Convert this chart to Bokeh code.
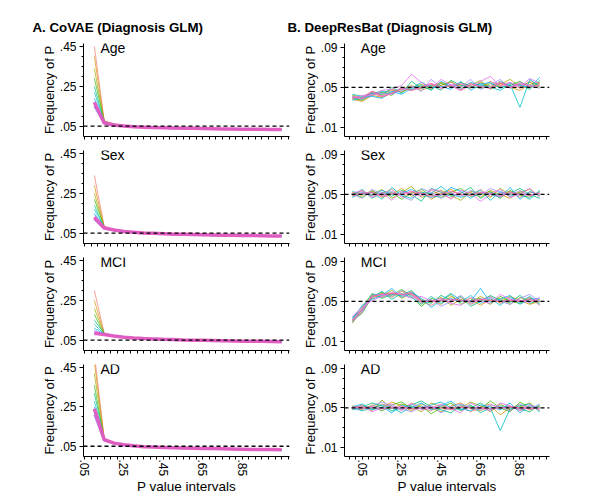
from bokeh.plotting import figure
from bokeh.layouts import column, row
from bokeh.models import Range1d, FixedTicker, CustomJSTickFormatter, Span, Label
from bokeh.embed import file_html
from bokeh.resources import INLINE

# ---------------- data ----------------
x_left = [0.10, 0.15, 0.20, 0.25, 0.30, 0.35, 0.40, 0.45, 0.50, 0.55,
          0.60, 0.65, 0.70, 0.75, 0.80, 0.85, 0.90, 0.95, 1.00, 1.05]
x_right = [0.00, 0.05, 0.10, 0.15, 0.20, 0.25, 0.30, 0.35, 0.40, 0.45,
           0.50, 0.55, 0.60, 0.65, 0.70, 0.75, 0.80, 0.85, 0.90, 0.95]

panel_names = ["Age", "Sex", "MCI", "AD"]
column_titles = ["A. CoVAE (Diagnosis GLM)", "B. DeepResBat (Diagnosis GLM)"]
x_ticks = [0.05, 0.25, 0.45, 0.65, 0.85]
left_y_ticks = [0.05, 0.25, 0.45]
right_y_ticks = [0.01, 0.05, 0.09]
ref_line = 0.05

covae_age = [
    [.45, .078, .060, .052, .048, .046, .045, .043, .042, .041, .040, .039, .038, .038, .037, .036, .035, .035, .034, .034],
    [.40, .074, .058, .053, .049, .045, .044, .044, .041, .040, .041, .038, .037, .039, .036, .035, .036, .034, .035, .033],
    [.34, .070, .061, .051, .047, .047, .043, .042, .043, .039, .038, .040, .038, .036, .037, .035, .034, .036, .033, .034],
    [.29, .076, .057, .054, .046, .044, .045, .041, .040, .041, .039, .037, .039, .037, .035, .037, .035, .033, .034, .032],
    [.25, .068, .059, .050, .049, .046, .042, .043, .041, .038, .040, .038, .036, .038, .036, .034, .036, .035, .032, .033],
    [.22, .072, .056, .052, .047, .045, .044, .041, .042, .040, .037, .039, .037, .036, .038, .035, .033, .034, .034, .032],
    [.19, .066, .058, .051, .048, .044, .043, .042, .040, .041, .039, .038, .037, .037, .035, .036, .034, .033, .035, .033],
    [.17, .070, .055, .053, .046, .046, .042, .043, .041, .039, .038, .037, .038, .035, .036, .034, .035, .034, .032, .034],
    [.15, .064, .057, .050, .047, .045, .043, .041, .040, .040, .038, .038, .036, .036, .035, .035, .034, .033, .033, .032],
    [.17, .066, .056, .051, .047, .045, .043, .042, .041, .040, .039, .038, .037, .036, .036, .035, .034, .034, .033, .033],
]
covae_sex = [
    [.34, .085, .068, .060, .056, .053, .050, .048, .046, .045, .044, .043, .042, .041, .040, .040, .039, .038, .038, .037],
    [.29, .080, .066, .058, .057, .051, .049, .049, .045, .044, .045, .042, .041, .042, .039, .038, .040, .037, .038, .036],
    [.25, .078, .070, .059, .054, .054, .048, .047, .047, .043, .043, .044, .040, .040, .041, .039, .038, .039, .036, .037],
    [.22, .082, .064, .061, .055, .052, .051, .046, .045, .046, .042, .041, .043, .039, .039, .041, .037, .037, .037, .035],
    [.19, .076, .067, .057, .058, .050, .049, .048, .044, .045, .044, .042, .041, .041, .038, .039, .039, .036, .038, .036],
    [.17, .079, .065, .060, .053, .053, .047, .047, .046, .042, .043, .043, .040, .042, .040, .038, .038, .038, .035, .036],
    [.15, .074, .069, .058, .056, .051, .050, .045, .045, .044, .041, .042, .042, .040, .039, .037, .039, .036, .037, .035],
    [.14, .077, .066, .059, .055, .052, .049, .048, .046, .044, .043, .041, .041, .040, .040, .039, .037, .037, .036, .036],
    [.12, .073, .064, .057, .054, .050, .048, .047, .045, .043, .042, .042, .040, .039, .038, .038, .037, .036, .036, .035],
    [.13, .076, .066, .058, .055, .051, .049, .047, .045, .044, .043, .042, .041, .040, .039, .038, .038, .037, .036, .036],
]
covae_mci = [
    [.30, .085, .072, .066, .062, .059, .057, .055, .053, .052, .051, .050, .049, .048, .047, .046, .045, .044, .044, .043],
    [.25, .080, .070, .064, .063, .058, .056, .056, .052, .051, .052, .049, .048, .049, .046, .045, .046, .043, .044, .042],
    [.21, .082, .074, .067, .060, .060, .055, .054, .054, .050, .050, .051, .047, .047, .048, .044, .045, .044, .042, .043],
    [.18, .078, .069, .065, .064, .057, .058, .053, .052, .053, .049, .049, .050, .046, .046, .047, .043, .045, .043, .041],
    [.15, .084, .071, .063, .061, .061, .054, .055, .051, .051, .051, .048, .048, .048, .045, .045, .046, .042, .043, .042],
    [.13, .079, .073, .068, .062, .058, .057, .052, .053, .050, .050, .050, .047, .047, .047, .044, .044, .045, .041, .042],
    [.11, .081, .068, .064, .060, .059, .055, .056, .052, .052, .049, .049, .049, .046, .046, .046, .045, .043, .043, .041],
    [.10, .077, .072, .066, .063, .057, .056, .054, .054, .051, .051, .047, .048, .048, .045, .045, .044, .044, .042, .043],
    [.09, .080, .070, .065, .061, .058, .056, .054, .052, .051, .050, .049, .048, .047, .046, .045, .045, .044, .043, .042],
    [.085, .078, .071, .065, .061, .058, .056, .054, .053, .051, .050, .049, .048, .047, .046, .045, .044, .044, .043, .042],
]
covae_ad = [
    [.52, .090, .068, .058, .052, .049, .047, .045, .043, .042, .041, .040, .039, .038, .037, .036, .035, .034, .033, .032],
    [.48, .086, .066, .060, .053, .048, .046, .046, .042, .041, .042, .039, .038, .039, .036, .035, .036, .033, .034, .031],
    [.42, .088, .070, .057, .051, .050, .045, .044, .044, .040, .039, .041, .037, .037, .038, .034, .034, .035, .032, .032],
    [.36, .083, .064, .059, .054, .047, .047, .043, .042, .042, .040, .038, .039, .036, .036, .037, .033, .034, .033, .030],
    [.32, .087, .067, .056, .050, .049, .044, .045, .041, .041, .039, .040, .037, .038, .035, .035, .035, .032, .033, .031],
    [.28, .084, .069, .058, .052, .048, .046, .043, .043, .039, .040, .038, .038, .036, .036, .034, .034, .034, .031, .032],
    [.25, .082, .065, .061, .053, .050, .045, .044, .042, .041, .038, .039, .037, .037, .035, .036, .033, .033, .032, .030],
    [.23, .086, .066, .057, .051, .048, .047, .044, .041, .040, .040, .038, .036, .037, .036, .034, .035, .032, .032, .031],
    [.21, .080, .064, .056, .050, .047, .045, .043, .042, .040, .039, .038, .037, .036, .035, .034, .034, .033, .032, .031],
    [.24, .083, .066, .058, .052, .048, .046, .044, .042, .041, .040, .039, .038, .037, .036, .035, .034, .033, .033, .032],
]

drb_age = [
    [.041, .039, .044, .041, .047, .046, .050, .049, .053, .052, .055, .051, .054, .050, .056, .052, .055, .049, .056, .053],
    [.038, .036, .042, .040, .044, .048, .052, .047, .051, .055, .050, .053, .049, .055, .051, .054, .050, .047, .053, .055],
    [.042, .040, .046, .043, .048, .045, .050, .053, .049, .052, .056, .049, .052, .057, .048, .053, .058, .051, .055, .050],
    [.039, .037, .043, .045, .042, .050, .047, .051, .048, .054, .050, .055, .051, .049, .054, .050, .052, .056, .050, .054],
    [.040, .038, .045, .042, .050, .044, .056, .049, .052, .047, .057, .052, .050, .054, .049, .056, .051, .053, .048, .057],
    [.043, .041, .044, .046, .045, .049, .048, .052, .047, .056, .051, .048, .055, .052, .050, .047, .053, .030, .058, .051],
    [.037, .040, .041, .039, .046, .043, .049, .055, .050, .051, .048, .056, .047, .053, .055, .049, .054, .052, .050, .060],
    [.041, .038, .043, .044, .043, .047, .051, .046, .058, .050, .053, .050, .058, .048, .052, .058, .049, .055, .052, .049],
    [.039, .042, .042, .047, .048, .052, .063, .055, .049, .058, .052, .054, .050, .056, .061, .051, .055, .050, .059, .054],
    [.040, .039, .046, .041, .044, .049, .047, .050, .054, .049, .052, .047, .053, .051, .049, .055, .050, .054, .051, .052],
]
drb_sex = [
    [.050, .053, .048, .051, .055, .047, .052, .049, .054, .050, .046, .052, .049, .055, .048, .051, .053, .047, .052, .050],
    [.052, .049, .054, .047, .050, .056, .048, .053, .045, .051, .055, .049, .052, .047, .054, .050, .046, .053, .049, .051],
    [.048, .051, .050, .055, .046, .052, .058, .047, .050, .054, .049, .044, .053, .051, .047, .056, .050, .052, .055, .048],
    [.051, .047, .053, .049, .052, .045, .051, .055, .049, .047, .052, .056, .048, .050, .053, .046, .054, .049, .047, .053],
    [.049, .055, .046, .052, .048, .054, .050, .043, .056, .052, .048, .051, .057, .046, .052, .049, .051, .056, .050, .046],
    [.053, .050, .052, .045, .057, .049, .046, .052, .051, .058, .050, .047, .050, .054, .044, .053, .048, .051, .045, .054],
    [.047, .052, .049, .054, .050, .051, .055, .050, .047, .049, .057, .053, .046, .052, .050, .047, .057, .045, .053, .049],
    [.050, .046, .055, .050, .053, .048, .044, .056, .052, .046, .051, .048, .054, .049, .056, .052, .049, .054, .048, .052],
    [.051, .054, .047, .052, .044, .053, .050, .048, .055, .053, .045, .054, .051, .043, .050, .055, .047, .050, .056, .047],
    [.049, .051, .052, .048, .051, .050, .053, .051, .048, .050, .053, .050, .049, .052, .051, .048, .052, .050, .049, .051],
]
drb_mci = [
    [.030, .040, .056, .054, .058, .055, .060, .050, .046, .052, .049, .054, .047, .051, .055, .048, .052, .050, .054, .046],
    [.028, .042, .053, .058, .054, .060, .057, .048, .051, .047, .055, .050, .053, .046, .052, .049, .055, .051, .047, .050],
    [.033, .045, .057, .055, .061, .053, .058, .052, .049, .054, .046, .052, .049, .055, .050, .053, .047, .054, .050, .052],
    [.031, .038, .055, .059, .056, .062, .055, .045, .053, .050, .057, .047, .051, .053, .047, .055, .050, .048, .053, .049],
    [.029, .043, .058, .053, .057, .056, .061, .051, .048, .056, .051, .055, .045, .050, .056, .051, .049, .056, .048, .051],
    [.034, .041, .054, .060, .052, .058, .054, .047, .055, .048, .053, .049, .056, .048, .053, .046, .054, .049, .055, .047],
    [.032, .046, .052, .056, .063, .054, .059, .053, .044, .051, .058, .051, .050, .063, .049, .052, .056, .047, .052, .053],
    [.030, .039, .056, .057, .055, .061, .056, .049, .052, .045, .050, .056, .048, .052, .054, .050, .047, .053, .057, .050],
    [.035, .044, .051, .055, .059, .057, .053, .055, .050, .053, .048, .046, .054, .050, .048, .057, .052, .051, .049, .054],
    [.031, .042, .055, .057, .058, .057, .058, .050, .050, .051, .052, .051, .050, .052, .051, .050, .051, .050, .052, .050],
]
drb_ad = [
    [.050, .052, .049, .054, .051, .048, .055, .050, .047, .053, .049, .052, .046, .051, .054, .049, .052, .047, .051, .049],
    [.051, .048, .053, .050, .056, .052, .047, .054, .050, .046, .052, .055, .049, .047, .052, .043, .050, .053, .048, .052],
    [.049, .053, .047, .058, .049, .054, .051, .046, .055, .051, .048, .050, .056, .052, .046, .054, .048, .051, .055, .047],
    [.052, .050, .051, .047, .053, .056, .049, .052, .044, .050, .055, .047, .052, .049, .057, .050, .046, .056, .050, .051],
    [.048, .051, .055, .052, .047, .050, .053, .057, .051, .048, .045, .053, .050, .055, .048, .052, .051, .049, .046, .053],
    [.050, .047, .050, .053, .050, .045, .052, .049, .053, .056, .050, .048, .053, .045, .050, .027, .049, .052, .054, .046],
    [.051, .054, .048, .051, .045, .053, .050, .055, .048, .052, .057, .049, .047, .053, .051, .048, .055, .045, .052, .050],
    [.049, .049, .052, .056, .052, .049, .046, .051, .052, .045, .051, .054, .050, .048, .053, .051, .047, .054, .049, .054],
    [.050, .052, .046, .050, .054, .047, .054, .048, .050, .054, .049, .045, .055, .050, .047, .055, .052, .048, .053, .048],
    [.051, .050, .051, .049, .050, .051, .049, .050, .051, .050, .049, .051, .050, .050, .049, .050, .051, .050, .049, .050],
]

covae_sets = [covae_age, covae_sex, covae_mci, covae_ad]
drb_sets = [drb_age, drb_sex, drb_mci, drb_ad]

palette = ["#F8766D", "#D89000", "#A3A500", "#39B600", "#00BF7D",
           "#00BFC4", "#00B0F6", "#9590FF", "#E76BF3", "#FF62BC"]

FONT = "Liberation Sans"
fmt = CustomJSTickFormatter(code="return tick.toFixed(2).replace(/^0/, '');")

LEFT_W, RIGHT_W = 292, 267
TITLE_H = 36


def x_minor(lo, hi, include_major):
    out = []
    for k in range(-6, 40):
        v = 0.05 + k * 0.2 / 6
        if lo <= v <= hi:
            is_major = any(abs(v - t) < 1e-6 for t in x_ticks)
            if include_major or not is_major:
                out.append(v)
    return out


def make_panel(col, r, series, xs):
    left = col == 0
    bottom = r == 3
    width = LEFT_W if left else RIGHT_W
    mb_left = 83 if left else 52
    mb_right = 3 if left else 10
    mb_top = 7
    mb_bottom = 40 if bottom else 7
    height = mb_top + 93 + mb_bottom
    if left:
        xr = Range1d(0.045, 1.09)
        yr = Range1d(-0.002, 0.465)
        yt = FixedTicker(ticks=left_y_ticks, minor_ticks=[0.10, 0.15, 0.20, 0.30, 0.35, 0.40])
    else:
        xr = Range1d(-0.04, 1.0)
        yr = Range1d(0.0007, 0.094)
        yt = FixedTicker(ticks=right_y_ticks, minor_ticks=[0.02, 0.03, 0.04, 0.06, 0.07, 0.08])
    p = figure(width=width, height=height, x_range=xr, y_range=yr,
               output_backend="svg", toolbar_location=None,
               min_border_left=mb_left, min_border_right=mb_right,
               min_border_top=mb_top, min_border_bottom=mb_bottom)
    p.grid.visible = False
    p.outline_line_color = None
    p.background_fill_color = "white"
    p.border_fill_color = "white"

    n = len(series)
    for i, ys in enumerate(series):
        c = palette[i % len(palette)]
        if left:
            if i == n - 1:
                p.line(xs, ys, line_color="#E45AC0", line_width=3.5, line_alpha=0.95)
            elif i == n - 2:
                p.line(xs, ys, line_color="#8E7CF0", line_width=2.0, line_alpha=0.85)
            else:
                p.line(xs, ys, line_color=c, line_width=1.0, line_alpha=0.7)
        else:
            lw = 1.4 if i == n - 1 else 1.0
            p.line(xs, ys, line_color=c, line_width=lw, line_alpha=0.8)

    p.add_layout(Span(location=ref_line, dimension="width", line_color="black",
                      line_dash="4 3", line_width=1.3))

    # x axis
    xa = p.xaxis[0]
    xa.axis_line_color = "black"
    xa.major_tick_line_color = "black"
    xa.minor_tick_line_color = "black"
    xa.major_tick_in = 0
    xa.major_tick_out = 3
    xa.minor_tick_in = 0
    xa.minor_tick_out = 3
    if bottom:
        xa.ticker = FixedTicker(ticks=x_ticks, minor_ticks=x_minor(xr.start, xr.end, False))
        xa.formatter = fmt
        xa.major_label_orientation = "vertical"
        xa.major_label_text_font = FONT
        xa.major_label_text_font_size = "12px"
        xa.major_label_text_color = "black"
        xa.major_label_standoff = 0
        xa.axis_label = "P value intervals"
        xa.axis_label_text_font = FONT
        xa.axis_label_text_font_size = "13.5px"
        xa.axis_label_text_font_style = "normal"
        xa.axis_label_text_color = "black"
        xa.axis_label_standoff = 0
    else:
        xa.ticker = FixedTicker(ticks=[], minor_ticks=x_minor(xr.start, xr.end, True))
        xa.major_label_standoff = 0

    # y axis
    ya = p.yaxis[0]
    ya.ticker = yt
    ya.formatter = fmt
    ya.axis_line_color = "black"
    ya.major_tick_line_color = "black"
    ya.minor_tick_line_color = "black"
    ya.major_tick_in = 0
    ya.major_tick_out = 4
    ya.minor_tick_in = 0
    ya.minor_tick_out = 2
    ya.major_label_text_font = FONT
    ya.major_label_text_font_size = "12px"
    ya.major_label_text_color = "black"
    ya.major_label_standoff = 3
    ya.axis_label = "Frequency of P"
    ya.axis_label_text_font = FONT
    ya.axis_label_text_font_size = "13px"
    ya.axis_label_text_font_style = "normal"
    ya.axis_label_text_color = "black"
    ya.axis_label_standoff = 0

    lx = 0.131 if left else 0.043
    p.add_layout(Label(x=lx, y=yr.end, y_offset=4, text=panel_names[r], text_font=FONT,
                       text_font_size="14px", text_baseline="top",
                       text_color="black"))
    return p


# title strip (pixel coordinates)
title_fig = figure(width=LEFT_W + RIGHT_W, height=TITLE_H,
                   x_range=Range1d(0, LEFT_W + RIGHT_W), y_range=Range1d(0, TITLE_H),
                   output_backend="svg", toolbar_location=None,
                   min_border=0, min_border_left=0, min_border_right=0,
                   min_border_top=0, min_border_bottom=0)
title_fig.axis.visible = False
title_fig.grid.visible = False
title_fig.outline_line_color = None
title_fig.background_fill_color = "white"
title_fig.border_fill_color = "white"
for tx, txt in zip([32, 287], column_titles):
    title_fig.add_layout(Label(x=tx, y=TITLE_H - 26.5, text=txt, text_font=FONT,
                               text_font_size="13.3px", text_font_style="bold",
                               text_baseline="middle", text_color="black"))

rows = [title_fig]
for r in range(4):
    rows.append(row(make_panel(0, r, covae_sets[r], x_left),
                    make_panel(1, r, drb_sets[r], x_right)))

layout = column(*rows)
open("out.html", "w").write(file_html(layout, INLINE))
